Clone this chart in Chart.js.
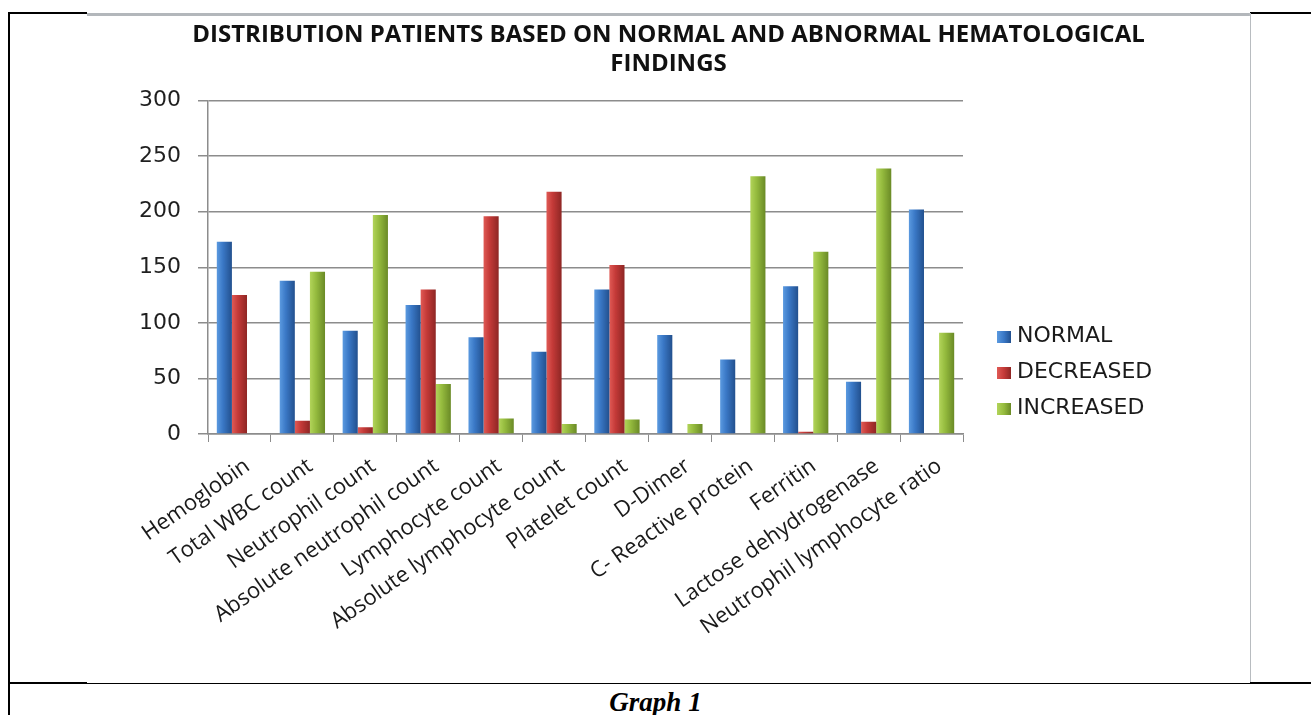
<!DOCTYPE html>
<html>
<head>
<meta charset="utf-8">
<script src="https://cdn.jsdelivr.net/npm/chart.js@4.4.1/dist/chart.umd.min.js"></script>
<style>
  html, body { margin: 0; padding: 0; background: #fff; }
  body { width: 1311px; height: 715px; position: relative; overflow: hidden; }
  .line { position: absolute; background: #000; }
  #chartBox { position: absolute; left: 87px; top: 16px; width: 1163px; height: 667px; background: #fff; }
  #legend { position: absolute; left: 997px; top: 317px; font-family: "DejaVu Sans", sans-serif; font-size: 22px; color: #1a1a1a; }
  #legend div { height: 36px; line-height: 36px; white-space: nowrap; }
  #legend span { display: inline-block; width: 14px; height: 12px; margin-right: 6px; vertical-align: -1px; }
  #caption { position: absolute; left: 0; width: 1311px; top: 684px; text-align: center;
    font-family: "Liberation Serif", serif; font-weight: bold; font-style: italic; font-size: 27px; line-height: 36px; }
</style>
</head>
<body>
<!-- table borders around the figure -->
<div class="line" style="left:8px;top:12px;width:2px;height:703px"></div>
<div class="line" style="left:8px;top:12px;width:79px;height:2px"></div>
<div class="line" style="left:1250px;top:12px;width:61px;height:2px"></div>
<div class="line" style="left:87px;top:13px;width:1163px;height:3px;background:#b3b7bb"></div>
<div class="line" style="left:1249px;top:13px;width:2px;height:671px;background:#b8bcc0"></div>
<div class="line" style="left:8px;top:682px;width:79px;height:2px"></div>
<div class="line" style="left:87px;top:683px;width:1163px;height:1px"></div>
<div class="line" style="left:1250px;top:682px;width:61px;height:2px"></div>

<div id="chartBox"><canvas id="hemaChart"></canvas></div>

<div id="legend">
  <div><span style="background:linear-gradient(90deg,#5b9ae0,#3a78c6,#22508e)"></span>NORMAL</div>
  <div><span style="background:linear-gradient(90deg,#e05a55,#c43a38,#8e2624)"></span>DECREASED</div>
  <div><span style="background:linear-gradient(90deg,#b2d45a,#95bb3e,#6a8a26)"></span>INCREASED</div>
</div>

<div id="caption">Graph 1</div>

<script>
const categories = [
  "Hemoglobin",
  "Total WBC count",
  "Neutrophil count",
  "Absolute neutrophil count",
  "Lymphocyte count",
  "Absolute lymphocyte count",
  "Platelet count",
  "D-Dimer",
  "C- Reactive protein",
  "Ferritin",
  "Lactose dehydrogenase",
  "Neutrophil lymphocyte ratio",
];

const normalValues = [173, 138, 93, 116, 87, 74, 130, 89, 67, 133, 47, 202];
const decreasedValues = [125, 12, 6, 130, 196, 218, 152, 0, 0, 2, 11, 0];
const increasedValues = [0, 146, 197, 45, 14, 9, 13, 9, 232, 164, 239, 91];

const seriesNames = ["NORMAL", "DECREASED", "INCREASED"];

const titleLines = [
  "DISTRIBUTION PATIENTS BASED ON NORMAL AND ABNORMAL HEMATOLOGICAL",
  "FINDINGS",
];

// light, mid, dark for the cylinder-like shading
const blueShade = ["#5b9ae0", "#3a78c6", "#22508e"];
const redShade = ["#e05a55", "#c43a38", "#8e2624"];
const greenShade = ["#b2d45a", "#95bb3e", "#6a8a26"];

function barFill(shade) {
  return (context) => {
    const el = context.element;
    if (!el || !isFinite(el.x) || !el.width) return shade[1];
    const g = context.chart.ctx.createLinearGradient(el.x - el.width / 2, 0, el.x + el.width / 2, 0);
    g.addColorStop(0, shade[0]);
    g.addColorStop(0.4, shade[1]);
    g.addColorStop(1, shade[2]);
    return g;
  };
}

const hemaCanvas = document.getElementById("hemaChart").getContext("2d");

const hemaChart = new Chart(hemaCanvas, {
  type: "bar",
  data: {
    labels: categories,
    datasets: [
      { label: seriesNames[0], data: normalValues, backgroundColor: barFill(blueShade) },
      { label: seriesNames[1], data: decreasedValues, backgroundColor: barFill(redShade) },
      { label: seriesNames[2], data: increasedValues, backgroundColor: barFill(greenShade) },
    ],
  },
  options: {
    responsive: true,
    maintainAspectRatio: false,
    animation: false,
    datasets: {
      bar: {
        barPercentage: 1,
        categoryPercentage: 0.72,
        borderWidth: 0,
      },
    },
    layout: {
      padding: 0,
    },
    plugins: {
      legend: { display: false },
      tooltip: { enabled: false },
      title: {
        display: true,
        text: titleLines,
        color: "#111",
        font: { family: "'Open Sans', sans-serif", size: 24, weight: "bold", lineHeight: 1.2 },
        padding: { top: 5, bottom: 22 },
      },
    },
    scales: {
      x: {
        grid: {
          display: true,
          drawOnChartArea: false,
          color: "#8c8c8c",
          tickLength: 8,
          offset: true,
        },
        border: { color: "#8c8c8c", width: 1.5 },
        ticks: {
          autoSkip: false,
          minRotation: 35,
          maxRotation: 35,
          padding: 11,
          labelOffset: 8,
          color: "#1a1a1a",
          font: { family: "'Open Sans', sans-serif", size: 22 },
        },
        afterFit: (scale) => {
          scale.height = 249;
        },
      },
      y: {
        min: 0,
        max: 300,
        ticks: {
          stepSize: 50,
          padding: 17,
          color: "#1f1f1f",
          font: { family: "'DejaVu Sans', sans-serif", size: 22 },
        },
        grid: {
          color: "#8c8c8c",
          lineWidth: 1.5,
          tickLength: 10,
        },
        border: { color: "#8c8c8c", width: 1.5 },
        afterFit: (scale) => {
          scale.width = 121;
        },
      },
      // empty right-hand axis that reserves room for the legend
      spacer: {
        type: "linear",
        position: "right",
        display: true,
        grid: { display: false },
        border: { display: false },
        ticks: { display: false },
        afterFit: (scale) => {
          scale.width = 287;
        },
      },
    },
  },
});

// second pass so the gradients know where each bar sits
hemaChart.update("none");
</script>
</body>
</html>
